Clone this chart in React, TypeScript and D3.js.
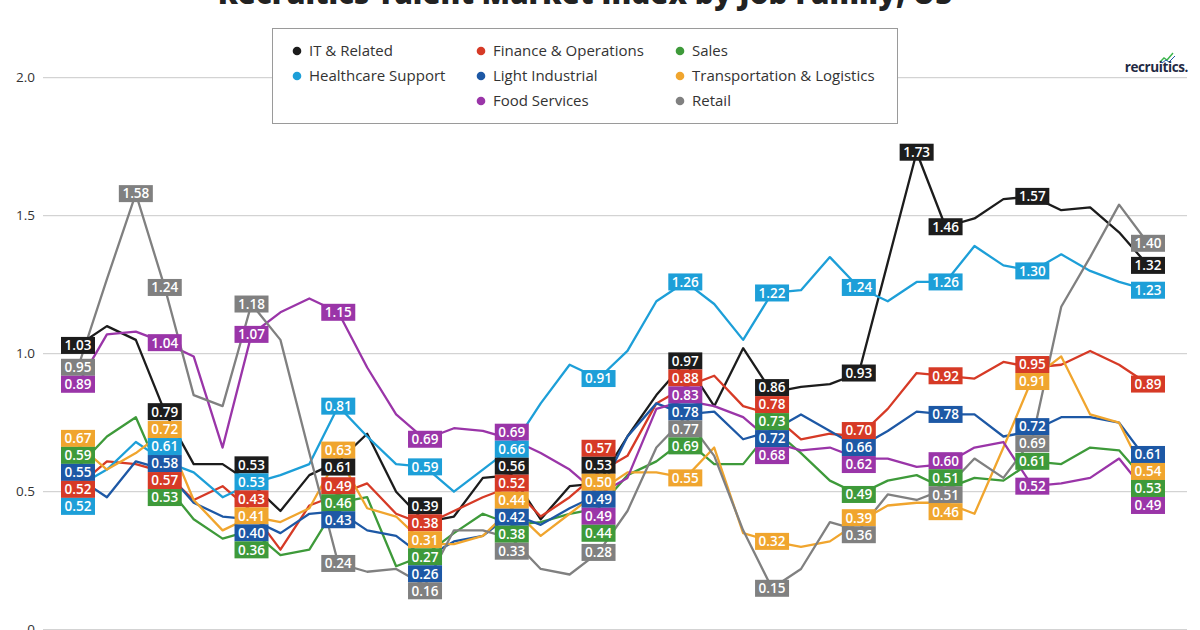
import React from "react";
import * as d3 from "d3";

const seriesNames = [
  "IT & Related",
  "Finance & Operations",
  "Sales",
  "Healthcare Support",
  "Light Industrial",
  "Transportation & Logistics",
  "Food Services",
  "Retail",
];
const seriesColors = ["#1c1c1c", "#d63a26", "#3e9a3a", "#1d9fd8", "#1d58a5", "#f0a52e", "#9a35a8", "#808080"];

const itRelated = [1.03,1.10,1.05,0.79,0.60,0.60,0.53,0.43,0.56,0.61,0.71,0.50,0.39,0.41,0.55,0.56,0.40,0.52,0.53,0.70,0.85,0.97,0.81,1.02,0.86,0.88,0.89,0.93,1.33,1.73,1.46,1.49,1.56,1.57,1.52,1.53,1.44,1.32];
const finance = [0.52,0.61,0.60,0.57,0.47,0.52,0.43,0.29,0.45,0.49,0.53,0.42,0.38,0.43,0.48,0.52,0.41,0.48,0.57,0.63,0.82,0.88,0.92,0.81,0.78,0.69,0.71,0.70,0.80,0.93,0.92,0.91,0.97,0.95,0.96,1.01,0.96,0.89];
const sales = [0.59,0.70,0.77,0.53,0.40,0.33,0.36,0.27,0.29,0.46,0.48,0.23,0.27,0.35,0.42,0.38,0.39,0.42,0.44,0.56,0.61,0.69,0.60,0.60,0.73,0.64,0.54,0.49,0.54,0.56,0.51,0.55,0.54,0.61,0.60,0.66,0.65,0.53];
const healthcare = [0.52,0.58,0.68,0.61,0.57,0.48,0.53,0.56,0.60,0.81,0.70,0.60,0.59,0.50,0.58,0.66,0.82,0.96,0.91,1.01,1.19,1.26,1.18,1.05,1.22,1.23,1.35,1.24,1.19,1.26,1.26,1.39,1.32,1.30,1.36,1.30,1.26,1.23];
const lightIndustrial = [0.55,0.48,0.61,0.58,0.46,0.41,0.40,0.35,0.42,0.43,0.36,0.34,0.26,0.32,0.34,0.42,0.38,0.44,0.49,0.70,0.82,0.78,0.79,0.69,0.72,0.78,0.72,0.66,0.72,0.79,0.78,0.78,0.70,0.72,0.77,0.77,0.75,0.61];
const transportation = [0.67,0.58,0.64,0.72,0.47,0.36,0.41,0.39,0.44,0.63,0.44,0.41,0.31,0.31,0.34,0.44,0.34,0.42,0.50,0.57,0.57,0.55,0.66,0.35,0.32,0.30,0.32,0.39,0.45,0.46,0.46,0.42,0.66,0.91,0.99,0.78,0.75,0.54];
const foodServices = [0.89,1.07,1.08,1.04,0.99,0.66,1.07,1.15,1.20,1.15,0.95,0.78,0.69,0.73,0.72,0.69,0.64,0.58,0.49,0.55,0.80,0.83,0.81,0.77,0.68,0.65,0.66,0.62,0.62,0.59,0.60,0.66,0.68,0.52,0.53,0.55,0.62,0.49];
const retail = [0.95,1.27,1.58,1.24,0.85,0.81,1.18,1.05,0.64,0.24,0.21,0.22,0.16,0.36,0.36,0.33,0.22,0.20,0.28,0.43,0.66,0.77,0.63,0.36,0.15,0.22,0.39,0.36,0.49,0.47,0.51,0.62,0.55,0.69,1.17,1.35,1.54,1.40];

const seriesValues = [itRelated, finance, sales, healthcare, lightIndustrial, transportation, foodServices, retail];

const labelIndices = [0, 3, 6, 9, 12, 15, 18, 21, 24, 27, 30, 33, 37];
// extra single labels: [series index, point index]
const extraLabels: [number, number][] = [[7, 2], [0, 29]];

const yTicks = [0, 0.5, 1.0, 1.5, 2.0];
const titleText = "Recruitics Talent Market Index by Job Family, US";

const W = 1200;
const H = 630;
const FONT = "'Open Sans', 'Noto Sans', sans-serif";

type Lab = { y: number; v: number; color: string; x: number };

function layoutLabels(items: Lab[], h: number) {
  const sorted = items.slice().sort((a, b) => a.y - b.y);
  let clusters = sorted.map((it) => ({ items: [it], top: it.y - h / 2 }));
  let changed = true;
  while (changed) {
    changed = false;
    for (let i = 0; i < clusters.length - 1; i++) {
      const a = clusters[i];
      const b = clusters[i + 1];
      if (a.top + a.items.length * h > b.top + 0.01) {
        const merged = [...a.items, ...b.items];
        const mean = d3.mean(merged, (d) => d.y) as number;
        clusters.splice(i, 2, { items: merged, top: mean - (merged.length * h) / 2 });
        changed = true;
        break;
      }
    }
  }
  const out: (Lab & { cy: number })[] = [];
  clusters.forEach((c) => c.items.forEach((it, k) => out.push({ ...it, cy: c.top + k * h + h / 2 })));
  return out;
}

export default function App() {
  const n = itRelated.length;
  const x = d3.scaleLinear().domain([0, n - 1]).range([78, 1148]);
  const y = d3.scaleLinear().domain([0, 2]).range([629.7, 77.7]);
  const line = d3
    .line<number>()
    .x((_, i) => x(i))
    .y((d) => y(d));

  const labH = 17;
  const labW = 34;
  const allLabels: (Lab & { cy: number })[] = [];
  labelIndices.forEach((idx) => {
    const items: Lab[] = seriesValues.map((vals, s) => ({
      y: y(vals[idx]),
      v: vals[idx],
      color: seriesColors[s],
      x: x(idx),
    }));
    allLabels.push(...layoutLabels(items, labH));
  });
  extraLabels.forEach(([s, idx]) => {
    const v = seriesValues[s][idx];
    allLabels.push({ y: y(v), v, color: seriesColors[s], x: x(idx), cy: y(v) });
  });

  // legend layout
  const legendCols = [297, 481, 680];
  const legendRows = [51, 76, 101];
  const perRow = 3;
  const nRows = Math.ceil(seriesNames.length / perRow);
  const legendItems = seriesNames.map((name, k) => {
    const row = Math.floor(k / perRow);
    const inRow = row === nRows - 1 ? seriesNames.length - row * perRow : perRow;
    const col = (k % perRow) + (perRow - inRow);
    return { name, color: seriesColors[k], x: legendCols[col], y: legendRows[row] };
  });

  return (
    <svg
      width={W}
      height={H}
      style={{ position: "absolute", left: 0, top: 0, background: "#fff", fontFamily: FONT }}
    >
      <rect x={0} y={0} width={W} height={H} fill="#fff" />
      <text x={585} y={4} textAnchor="middle" fontSize={29.5} fontWeight={800} fill="#222">
        {titleText}
      </text>

      {/* grid + y labels */}
      {yTicks.map((t) => (
        <g key={t}>
          <line x1={43} x2={1187} y1={y(t)} y2={y(t)} stroke="#c9c9c9" strokeWidth={1} />
          <text x={35} y={y(t)} dy="0.35em" textAnchor="end" fontSize={13.5} fill="#333">
            {t === 0 ? "0" : t.toFixed(1)}
          </text>
        </g>
      ))}

      {/* logo */}
      <g>
        <polyline points="1160,62 1164,58 1167,60 1173,53" fill="none" stroke="#3bb54a" strokeWidth={1.4} />
        <polyline points="1162,63 1166,60 1169,62 1175,56" fill="none" stroke="#1d58a5" strokeWidth={1} />
        <text x={1188} y={72} textAnchor="end" fontSize={13.5} fontWeight={700} fill="#1f2a44" letterSpacing={-0.4}>
          recruitics.
        </text>
      </g>

      {/* legend */}
      <rect x={272.5} y={28.5} width={625} height={95} fill="#fff" stroke="#9a9a9a" strokeWidth={1} />
      {legendItems.map((it) => (
        <g key={it.name}>
          <circle cx={it.x} cy={it.y} r={4.3} fill={it.color} />
          <text x={it.x + 12} y={it.y} dy="0.35em" fontSize={15} fill="#333">
            {it.name}
          </text>
        </g>
      ))}

      {/* lines */}
      {seriesValues.map((vals, s) => (
        <path
          key={seriesNames[s]}
          d={line(vals) as string}
          fill="none"
          stroke={seriesColors[s]}
          strokeWidth={2.3}
          strokeLinejoin="round"
        />
      ))}

      {/* labels */}
      {allLabels.map((l, i) => (
        <g key={i}>
          <rect x={l.x - labW / 2} y={l.cy - labH / 2} width={labW} height={labH} fill={l.color} />
          <text
            x={l.x}
            y={l.cy}
            dy="0.36em"
            textAnchor="middle"
            fontSize={13.5}
            fontWeight={600}
            fill="#fff"
          >
            {l.v.toFixed(2)}
          </text>
        </g>
      ))}
    </svg>
  );
}
